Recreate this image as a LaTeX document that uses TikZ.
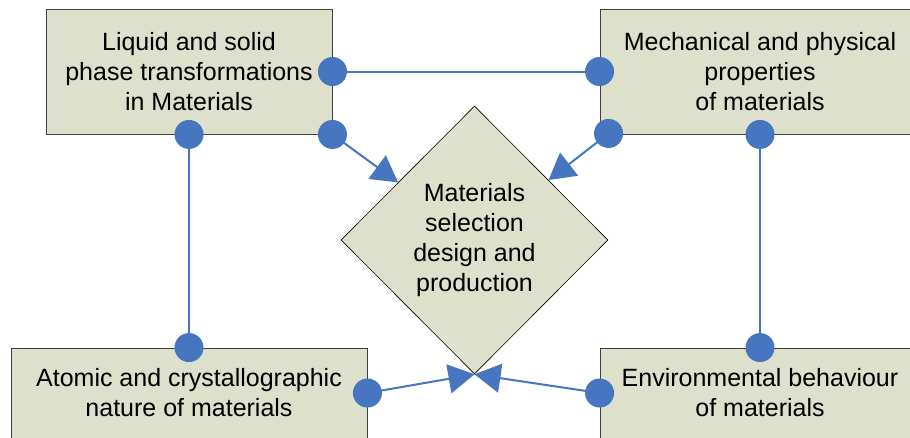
\documentclass[tikz,border=0pt]{standalone}
\usepackage{fontspec}
\setmainfont{Liberation Sans}
\usetikzlibrary{shapes.geometric,arrows.meta,calc}
\definecolor{boxfill}{HTML}{DDE1CC}
\definecolor{linkblue}{HTML}{4776C0}
\definecolor{boxline}{HTML}{404040}
\tikzset{
  box/.style={draw=boxline, line width=0.9pt, fill=boxfill, inner sep=0pt, align=center,
    font=\fontsize{25}{30}\selectfont},
  dia/.style={diamond, draw=black, line width=0.6pt, fill=boxfill, inner sep=0pt, align=center,
    minimum width=267pt, minimum height=268pt, font=\fontsize{25}{30}\selectfont},
  link/.style={draw=linkblue, line width=2pt},
  arr/.style={link, -{Triangle[length=26pt,width=29pt]}},
  dot/.style={fill=linkblue}
}
\begin{document}
\begin{tikzpicture}[x=1pt,y=-1pt]
\useasboundingbox (0,0) rectangle (910,437);
\fill[white] (0,0) rectangle (910,437);
\node[box, minimum width=286pt, minimum height=125pt] (tl) at (189,71.5)
  {Liquid and solid\\phase transformations\\in Materials};
\node[box, minimum width=320pt, minimum height=125pt] (tr) at (760,71.5)
  {Mechanical and physical\\properties\\of materials};
\node[box, minimum width=356pt, minimum height=90pt] (bl) at (189,393)
  {Atomic and crystallographic\\nature of materials};
\node[box, minimum width=320pt, minimum height=90pt] (br) at (760,393)
  {Environmental behaviour\\of materials};
\node[dia] (d) at (474.5,240) {Materials\\selection\\design and\\production};
\coordinate (tla) at (tl.east);
\coordinate (tlb) at (tl.south east);
\coordinate (tlc) at (tl.south);
\coordinate (tra) at (tr.west);
\coordinate (trb) at ($(tr.south west)+(9,-1)$);
\coordinate (trc) at (tr.south);
\coordinate (blc) at (bl.north);
\coordinate (blb) at (bl.east);
\coordinate (brc) at (br.north);
\coordinate (brb) at (br.west);
\draw[link] (tla) -- (tra);
\draw[link] (tlc) -- (blc);
\draw[link] (trc) -- (brc);
\draw[arr] (tlb) -- (d.143);
\draw[arr] (trb) -- (d.39);
\draw[arr] (blb) -- (d.south);
\draw[arr] (brb) -- (d.south);
\foreach \p in {tla,tlb,tlc,tra,trb,trc,blc,blb,brc,brb}
  \fill[dot] (\p) circle (14.5pt);
\end{tikzpicture}
\end{document}
